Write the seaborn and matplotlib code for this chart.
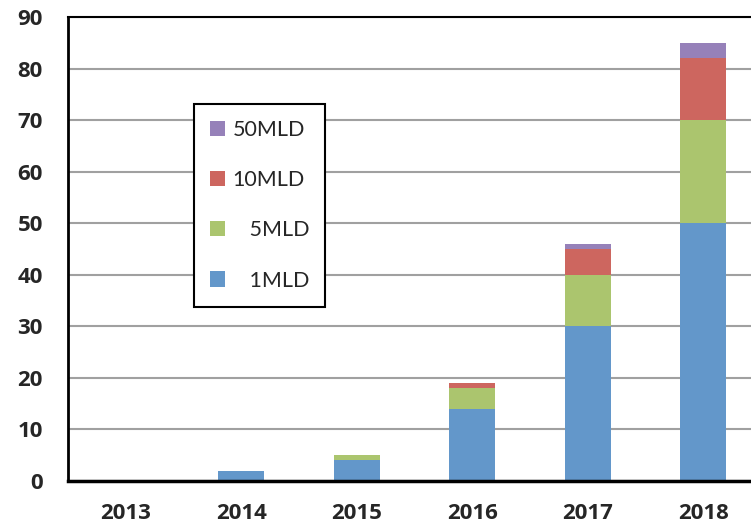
import numpy as np
import pandas as pd
import seaborn as sns
import matplotlib.pyplot as plt
from matplotlib.patches import Patch

years = ["2013", "2014", "2015", "2016", "2017", "2018"]
series = ["1MLD", "5MLD", "10MLD", "50MLD"]
mld_1 = [0, 2, 4, 14, 30, 50]
mld_5 = [0, 0, 1, 4, 10, 20]
mld_10 = [0, 0, 0, 1, 5, 12]
mld_50 = [0, 0, 0, 0, 1, 3]
legend_labels = ["50MLD", "10MLD", "   5MLD", "   1MLD"]

colors = {"1MLD": "#6397CA", "5MLD": "#ABC56E", "10MLD": "#CD665F", "50MLD": "#9681B9"}

df = pd.DataFrame({"year": years, "1MLD": mld_1, "5MLD": mld_5,
                   "10MLD": mld_10, "50MLD": mld_50})
cum = df[series].cumsum(axis=1)
cum["year"] = df["year"]

sns.set_style("white")
plt.rcParams["font.family"] = ["Lato", "DejaVu Sans"]

fig = plt.figure(figsize=(7.51, 5.28), dpi=100)
ax = fig.add_axes([68 / 751, 47 / 528, 693 / 751, 464 / 528])

# stacked bars: draw cumulative totals from the top segment down
for s in reversed(series):
    sns.barplot(data=cum, x="year", y=s, color=colors[s], width=0.4,
                saturation=1, linewidth=0, ax=ax)

ax.set_xlim(-0.5, 5.5)
ax.set_ylim(0, 90)
ax.set_yticks(np.arange(0, 91, 10))
ax.set_xlabel("")
ax.set_ylabel("")
ax.yaxis.grid(True, color="#A0A0A0", linewidth=1.5)
ax.set_axisbelow(True)

for side in ["left", "bottom", "top"]:
    ax.spines[side].set_visible(True)
    ax.spines[side].set_color("black")
ax.spines["left"].set_linewidth(2)
ax.spines["bottom"].set_linewidth(2.5)
ax.spines["top"].set_linewidth(1.5)
ax.spines["right"].set_visible(False)

ax.tick_params(axis="y", direction="in", length=6, width=1.5, color="black",
               pad=18)
ax.tick_params(axis="x", which="major", length=0, pad=16)
ax.set_xticks(np.arange(0.5, 5.5, 1), minor=True)
ax.tick_params(axis="x", which="minor", direction="in", length=6, width=1.5,
               color="black")
for lab in ax.get_xticklabels() + ax.get_yticklabels():
    lab.set_fontfamily(["Open Sans", "DejaVu Sans"])
    lab.set_fontweight("bold")
    lab.set_fontsize(16)

handles = [Patch(facecolor=colors[s], edgecolor="none") for s in reversed(series)]
leg = ax.legend(handles, legend_labels, loc="upper left",
                bbox_to_anchor=(194 / 751, 1 - 104 / 528),
                bbox_transform=fig.transFigure, frameon=True, fancybox=False,
                fontsize=15.5, handlelength=0.7, handleheight=0.7,
                handletextpad=0.35, labelspacing=1.4, borderpad=0.75,
                borderaxespad=0)
leg.get_frame().set_edgecolor("black")
leg.get_frame().set_linewidth(1.5)
leg.get_frame().set_alpha(1)

fig.savefig("out.png", dpi=100)
